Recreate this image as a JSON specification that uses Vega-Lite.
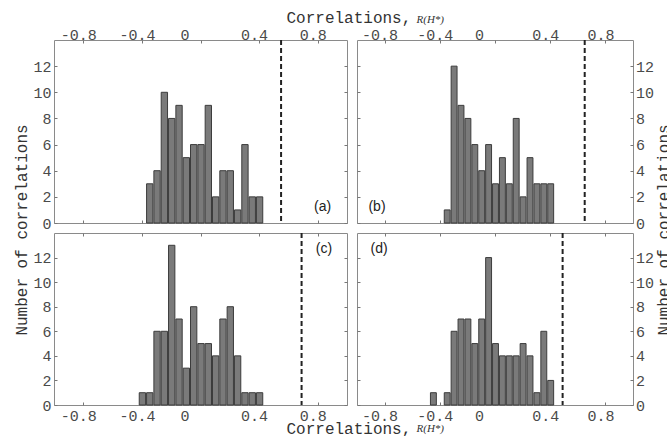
{
  "$schema": "https://vega.github.io/schema/vega-lite/v6.json",
  "background": "white",
  "padding": {"left": 12, "top": 8, "right": 0, "bottom": 0},
  "autosize": {"type": "pad"},
  "datasets": {
    "bars": [
      {"p": "a", "lo": -0.375, "hi": -0.325, "n": 3},
      {"p": "a", "lo": -0.325, "hi": -0.275, "n": 4},
      {"p": "a", "lo": -0.275, "hi": -0.225, "n": 10},
      {"p": "a", "lo": -0.225, "hi": -0.175, "n": 8},
      {"p": "a", "lo": -0.175, "hi": -0.125, "n": 9},
      {"p": "a", "lo": -0.125, "hi": -0.075, "n": 5},
      {"p": "a", "lo": -0.075, "hi": -0.025, "n": 6},
      {"p": "a", "lo": -0.025, "hi": 0.025, "n": 6},
      {"p": "a", "lo": 0.025, "hi": 0.075, "n": 9},
      {"p": "a", "lo": 0.075, "hi": 0.125, "n": 2},
      {"p": "a", "lo": 0.125, "hi": 0.175, "n": 4},
      {"p": "a", "lo": 0.175, "hi": 0.225, "n": 4},
      {"p": "a", "lo": 0.225, "hi": 0.275, "n": 1},
      {"p": "a", "lo": 0.275, "hi": 0.325, "n": 6},
      {"p": "a", "lo": 0.325, "hi": 0.375, "n": 2},
      {"p": "a", "lo": 0.375, "hi": 0.425, "n": 2},
      {"p": "b", "lo": -0.375, "hi": -0.325, "n": 1},
      {"p": "b", "lo": -0.325, "hi": -0.275, "n": 12},
      {"p": "b", "lo": -0.275, "hi": -0.225, "n": 9},
      {"p": "b", "lo": -0.225, "hi": -0.175, "n": 8},
      {"p": "b", "lo": -0.175, "hi": -0.125, "n": 6},
      {"p": "b", "lo": -0.125, "hi": -0.075, "n": 4},
      {"p": "b", "lo": -0.075, "hi": -0.025, "n": 6},
      {"p": "b", "lo": -0.025, "hi": 0.025, "n": 3},
      {"p": "b", "lo": 0.025, "hi": 0.075, "n": 5},
      {"p": "b", "lo": 0.075, "hi": 0.125, "n": 3},
      {"p": "b", "lo": 0.125, "hi": 0.175, "n": 8},
      {"p": "b", "lo": 0.175, "hi": 0.225, "n": 2},
      {"p": "b", "lo": 0.225, "hi": 0.275, "n": 5},
      {"p": "b", "lo": 0.275, "hi": 0.325, "n": 3},
      {"p": "b", "lo": 0.325, "hi": 0.375, "n": 3},
      {"p": "b", "lo": 0.375, "hi": 0.425, "n": 3},
      {"p": "c", "lo": -0.425, "hi": -0.375, "n": 1},
      {"p": "c", "lo": -0.375, "hi": -0.325, "n": 1},
      {"p": "c", "lo": -0.325, "hi": -0.275, "n": 6},
      {"p": "c", "lo": -0.275, "hi": -0.225, "n": 6},
      {"p": "c", "lo": -0.225, "hi": -0.175, "n": 13},
      {"p": "c", "lo": -0.175, "hi": -0.125, "n": 7},
      {"p": "c", "lo": -0.125, "hi": -0.075, "n": 3},
      {"p": "c", "lo": -0.075, "hi": -0.025, "n": 8},
      {"p": "c", "lo": -0.025, "hi": 0.025, "n": 5},
      {"p": "c", "lo": 0.025, "hi": 0.075, "n": 5},
      {"p": "c", "lo": 0.075, "hi": 0.125, "n": 4},
      {"p": "c", "lo": 0.125, "hi": 0.175, "n": 7},
      {"p": "c", "lo": 0.175, "hi": 0.225, "n": 8},
      {"p": "c", "lo": 0.225, "hi": 0.275, "n": 4},
      {"p": "c", "lo": 0.275, "hi": 0.325, "n": 1},
      {"p": "c", "lo": 0.325, "hi": 0.375, "n": 1},
      {"p": "c", "lo": 0.375, "hi": 0.425, "n": 1},
      {"p": "d", "lo": -0.475, "hi": -0.425, "n": 1},
      {"p": "d", "lo": -0.375, "hi": -0.325, "n": 1},
      {"p": "d", "lo": -0.325, "hi": -0.275, "n": 6},
      {"p": "d", "lo": -0.275, "hi": -0.225, "n": 7},
      {"p": "d", "lo": -0.225, "hi": -0.175, "n": 7},
      {"p": "d", "lo": -0.175, "hi": -0.125, "n": 5},
      {"p": "d", "lo": -0.125, "hi": -0.075, "n": 7},
      {"p": "d", "lo": -0.075, "hi": -0.025, "n": 12},
      {"p": "d", "lo": -0.025, "hi": 0.025, "n": 5},
      {"p": "d", "lo": 0.025, "hi": 0.075, "n": 4},
      {"p": "d", "lo": 0.075, "hi": 0.125, "n": 4},
      {"p": "d", "lo": 0.125, "hi": 0.175, "n": 4},
      {"p": "d", "lo": 0.175, "hi": 0.225, "n": 5},
      {"p": "d", "lo": 0.225, "hi": 0.275, "n": 4},
      {"p": "d", "lo": 0.275, "hi": 0.325, "n": 1},
      {"p": "d", "lo": 0.325, "hi": 0.375, "n": 6},
      {"p": "d", "lo": 0.375, "hi": 0.425, "n": 2}
    ],
    "refs": [
      {"p": "a", "r": 0.55, "tag": "(a)"},
      {"p": "b", "r": 0.65, "tag": "(b)"},
      {"p": "c", "r": 0.69, "tag": "(c)"},
      {"p": "d", "r": 0.49, "tag": "(d)"}
    ]
  },
  "columns": 2,
  "spacing": {"row": 10, "column": 10},
  "bounds": "flush",
  "align": "each",
  "concat": [
    {
      "width": 293, "height": 183,
      "layer": [
        {
          "data": {"name": "bars"}, "transform": [{"filter": "datum.p == 'a'"}],
          "mark": {"type": "bar", "fill": "#7a7a7a", "stroke": "#3c3c3c", "strokeWidth": 1},
          "encoding": {
            "x": {"field": "lo", "type": "quantitative", "bin": "binned", "scale": {"domain": [-1, 1], "nice": false, "zero": false},
              "axis": {"orient": "top", "values": [-0.8, -0.4, 0, 0.4, 0.8],
                "labelExpr": "datum.value == 0 ? '0' : (datum.value < 0 ? '-' + format(-datum.value, '.1f') : format(datum.value, '.1f'))",
                "labelBaseline": "alphabetic", "labelPadding": 4,
                "labelOffset": {"condition": {"test": "datum.value == 0", "value": -16}, "value": -5},
                "title": "Correlations,", "titleX": 232, "titleY": -18, "titleAlign": "left", "titleBaseline": "alphabetic", "titleAngle": 0}},
            "x2": {"field": "hi"},
            "y": {"field": "n", "type": "quantitative", "scale": {"domain": [0, 14], "nice": false},
              "axis": {"orient": "left", "values": [0, 2, 4, 6, 8, 10, 12], "labelPadding": 6,
                "title": "Number of correlations", "titleX": -28, "titleY": 189.5, "titleAngle": -90, "titleAlign": "center", "titleBaseline": "alphabetic"}}
          }
        },
        {
          "data": {"name": "refs"}, "transform": [{"filter": "datum.p == 'a'"}],
          "mark": {"type": "rule", "stroke": "#222222", "strokeWidth": 2, "strokeDash": [5, 3]},
          "encoding": {
            "x": {"field": "r", "type": "quantitative", "axis": {"orient": "bottom", "values": [-0.8, -0.4, 0, 0.4, 0.8], "labels": false, "title": null}}
          }
        },
        {
          "data": {"name": "refs"}, "transform": [{"filter": "datum.p == 'a'"}],
          "mark": {"type": "text", "font": "Liberation Sans", "fontSize": 14, "color": "#222222", "baseline": "middle", "align": "center"},
          "encoding": {
            "x": {"datum": 0.833, "type": "quantitative", "axis": null},
            "y": {"datum": 1.19, "type": "quantitative", "axis": {"orient": "right", "values": [0, 2, 4, 6, 8, 10, 12], "labels": false, "title": null}},
            "text": {"field": "tag"}
          }
        }
      ],
      "resolve": {"axis": {"x": "independent", "y": "independent"}}
    },
    {
      "width": 276, "height": 183,
      "layer": [
        {
          "data": {"name": "bars"}, "transform": [{"filter": "datum.p == 'b'"}],
          "mark": {"type": "bar", "fill": "#7a7a7a", "stroke": "#3c3c3c", "strokeWidth": 1},
          "encoding": {
            "x": {"field": "lo", "type": "quantitative", "bin": "binned", "scale": {"domain": [-1, 1], "nice": false, "zero": false},
              "axis": {"orient": "top", "values": [-0.8, -0.4, 0, 0.4, 0.8],
                "labelExpr": "datum.value == 0 ? '0' : (datum.value < 0 ? '-' + format(-datum.value, '.1f') : format(datum.value, '.1f'))",
                "labelBaseline": "alphabetic", "labelPadding": 4,
                "labelOffset": {"condition": {"test": "datum.value == 0", "value": -16}, "value": -5},
                "title": "R(H*)", "titleFont": "Liberation Serif", "titleFontStyle": "italic", "titleFontSize": 11,
                "titleX": 59, "titleY": -18, "titleAlign": "left", "titleBaseline": "alphabetic", "titleAngle": 0}},
            "x2": {"field": "hi"},
            "y": {"field": "n", "type": "quantitative", "scale": {"domain": [0, 14], "nice": false},
              "axis": {"orient": "right", "values": [0, 2, 4, 6, 8, 10, 12], "labelPadding": 5.5,
                "title": "Number of correlations", "titleX": 35, "titleY": 189.5, "titleAngle": -90, "titleAlign": "center", "titleBaseline": "alphabetic"}}
          }
        },
        {
          "data": {"name": "refs"}, "transform": [{"filter": "datum.p == 'b'"}],
          "mark": {"type": "rule", "stroke": "#222222", "strokeWidth": 2, "strokeDash": [5, 3]},
          "encoding": {
            "x": {"field": "r", "type": "quantitative", "axis": {"orient": "bottom", "values": [-0.8, -0.4, 0, 0.4, 0.8], "labels": false, "title": null}}
          }
        },
        {
          "data": {"name": "refs"}, "transform": [{"filter": "datum.p == 'b'"}],
          "mark": {"type": "text", "font": "Liberation Sans", "fontSize": 14, "color": "#222222", "baseline": "middle", "align": "center"},
          "encoding": {
            "x": {"datum": -0.855, "type": "quantitative", "axis": null},
            "y": {"datum": 1.19, "type": "quantitative", "axis": {"orient": "left", "values": [0, 2, 4, 6, 8, 10, 12], "labels": false, "title": null}},
            "text": {"field": "tag"}
          }
        }
      ],
      "resolve": {"axis": {"x": "independent", "y": "independent"}}
    },
    {
      "width": 293, "height": 172,
      "layer": [
        {
          "data": {"name": "bars"}, "transform": [{"filter": "datum.p == 'c'"}],
          "mark": {"type": "bar", "fill": "#7a7a7a", "stroke": "#3c3c3c", "strokeWidth": 1},
          "encoding": {
            "x": {"field": "lo", "type": "quantitative", "bin": "binned", "scale": {"domain": [-1, 1], "nice": false, "zero": false},
              "axis": {"orient": "bottom", "values": [-0.8, -0.4, 0, 0.4, 0.8],
                "labelExpr": "datum.value == 0 ? '0' : (datum.value < 0 ? '-' + format(-datum.value, '.1f') : format(datum.value, '.1f'))",
                "labelBaseline": "top", "labelPadding": 6.5,
                "labelOffset": {"condition": {"test": "datum.value == 0", "value": -16}, "value": -5},
                "title": "Correlations,", "titleX": 232, "titleY": 28, "titleAlign": "left", "titleBaseline": "alphabetic", "titleAngle": 0}},
            "x2": {"field": "hi"},
            "y": {"field": "n", "type": "quantitative", "scale": {"domain": [0, 14], "nice": false},
              "axis": {"orient": "left", "values": [0, 2, 4, 6, 8, 10, 12], "labelPadding": 6, "title": null}}
          }
        },
        {
          "data": {"name": "refs"}, "transform": [{"filter": "datum.p == 'c'"}],
          "mark": {"type": "rule", "stroke": "#222222", "strokeWidth": 2, "strokeDash": [5, 3]},
          "encoding": {
            "x": {"field": "r", "type": "quantitative", "axis": {"orient": "top", "values": [-0.8, -0.4, 0, 0.4, 0.8], "labels": false, "title": null}}
          }
        },
        {
          "data": {"name": "refs"}, "transform": [{"filter": "datum.p == 'c'"}],
          "mark": {"type": "text", "font": "Liberation Sans", "fontSize": 14, "color": "#222222", "baseline": "middle", "align": "center"},
          "encoding": {
            "x": {"datum": 0.843, "type": "quantitative", "axis": null},
            "y": {"datum": 12.73, "type": "quantitative", "axis": {"orient": "right", "values": [0, 2, 4, 6, 8, 10, 12], "labels": false, "title": null}},
            "text": {"field": "tag"}
          }
        }
      ],
      "resolve": {"axis": {"x": "independent", "y": "independent"}}
    },
    {
      "width": 276, "height": 172,
      "layer": [
        {
          "data": {"name": "bars"}, "transform": [{"filter": "datum.p == 'd'"}],
          "mark": {"type": "bar", "fill": "#7a7a7a", "stroke": "#3c3c3c", "strokeWidth": 1},
          "encoding": {
            "x": {"field": "lo", "type": "quantitative", "bin": "binned", "scale": {"domain": [-1, 1], "nice": false, "zero": false},
              "axis": {"orient": "bottom", "values": [-0.8, -0.4, 0, 0.4, 0.8],
                "labelExpr": "datum.value == 0 ? '0' : (datum.value < 0 ? '-' + format(-datum.value, '.1f') : format(datum.value, '.1f'))",
                "labelBaseline": "top", "labelPadding": 6.5,
                "labelOffset": {"condition": {"test": "datum.value == 0", "value": -16}, "value": -5},
                "title": "R(H*)", "titleFont": "Liberation Serif", "titleFontStyle": "italic", "titleFontSize": 11,
                "titleX": 59, "titleY": 26, "titleAlign": "left", "titleBaseline": "alphabetic", "titleAngle": 0}},
            "x2": {"field": "hi"},
            "y": {"field": "n", "type": "quantitative", "scale": {"domain": [0, 14], "nice": false},
              "axis": {"orient": "right", "values": [0, 2, 4, 6, 8, 10, 12], "labelPadding": 5.5, "title": null}}
          }
        },
        {
          "data": {"name": "refs"}, "transform": [{"filter": "datum.p == 'd'"}],
          "mark": {"type": "rule", "stroke": "#222222", "strokeWidth": 2, "strokeDash": [5, 3]},
          "encoding": {
            "x": {"field": "r", "type": "quantitative", "axis": {"orient": "top", "values": [-0.8, -0.4, 0, 0.4, 0.8], "labels": false, "title": null}}
          }
        },
        {
          "data": {"name": "refs"}, "transform": [{"filter": "datum.p == 'd'"}],
          "mark": {"type": "text", "font": "Liberation Sans", "fontSize": 14, "color": "#222222", "baseline": "middle", "align": "center"},
          "encoding": {
            "x": {"datum": -0.84, "type": "quantitative", "axis": null},
            "y": {"datum": 12.73, "type": "quantitative", "axis": {"orient": "left", "values": [0, 2, 4, 6, 8, 10, 12], "labels": false, "title": null}},
            "text": {"field": "tag"}
          }
        }
      ],
      "resolve": {"axis": {"x": "independent", "y": "independent"}}
    }
  ],
  "config": {
    "view": {"stroke": "#8a8a8a", "strokeWidth": 1},
    "axis": {
      "domain": false, "grid": false, "ticks": true, "tickSize": -3, "tickColor": "#777777", "tickWidth": 1,
      "labelFont": "Liberation Mono", "labelFontSize": 15, "labelColor": "#4a4a4a",
      "labelFlush": false, "labelOverlap": false,
      "titleFont": "Liberation Mono", "titleFontSize": 16, "titleFontWeight": "normal", "titleColor": "#333333"
    }
  }
}
